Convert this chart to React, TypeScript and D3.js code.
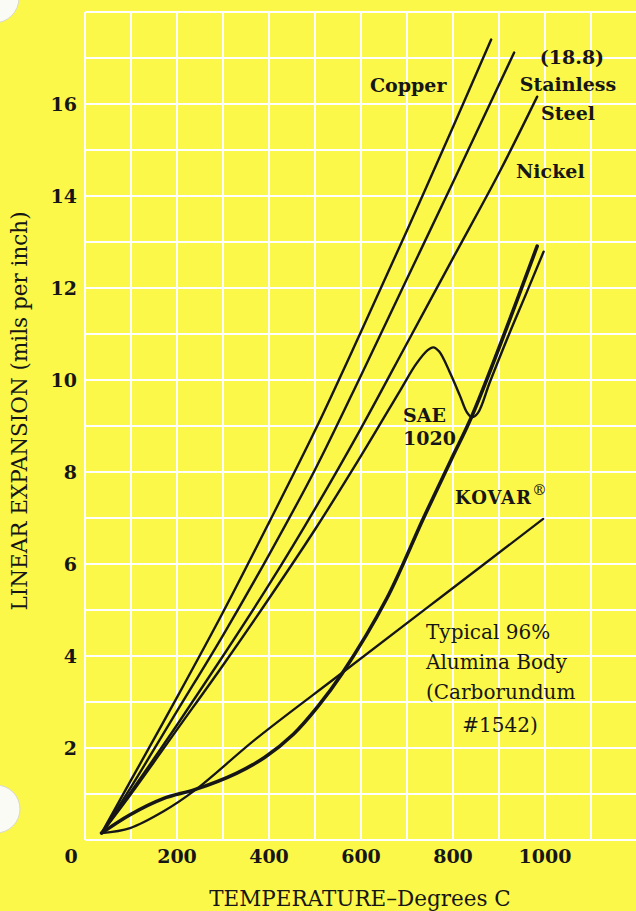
import React from "react";
import * as d3 from "d3";

// Temperature (°C) and linear expansion (mils per inch)
const copperT = [36, 100, 200, 300, 400, 500, 600, 700, 800, 883];
const copperV = [0.15, 1.3, 3.1, 4.95, 6.9, 8.9, 11.05, 13.25, 15.5, 17.4];

const stainlessT = [36, 100, 200, 300, 400, 500, 600, 700, 800, 933];
const stainlessV = [0.15, 1.15, 2.8, 4.45, 6.2, 8.05, 10.1, 12.2, 14.3, 17.12];

const nickelT = [36, 100, 200, 300, 400, 500, 600, 700, 800, 900, 983];
const nickelV = [0.15, 1.05, 2.5, 4.0, 5.55, 7.2, 8.95, 10.8, 12.65, 14.5, 16.16];

const saeT = [36, 100, 200, 300, 400, 500, 600, 685, 720, 745, 757, 770, 793, 815, 830, 841, 854, 880, 920, 960, 997];
const saeV = [0.15, 1.0, 2.4, 3.8, 5.25, 6.75, 8.35, 9.77, 10.35, 10.65, 10.71, 10.62, 10.17, 9.66, 9.3, 9.19, 9.28, 9.95, 10.95, 11.9, 12.79];

const kovarT = [36, 98, 170, 240, 329, 391, 453, 506, 559, 656, 735, 797, 843, 983];
const kovarV = [0.15, 0.55, 0.9, 1.1, 1.45, 1.8, 2.3, 2.9, 3.62, 5.25, 6.98, 8.29, 9.26, 12.91];

const aluminaT = [36, 98, 170, 240, 373, 557, 770, 996];
const aluminaV = [0.15, 0.26, 0.62, 1.09, 2.21, 3.62, 5.25, 6.98];

const xTicks = [200, 400, 600, 800, 1000];
const yTicks = [2, 4, 6, 8, 10, 12, 14, 16];
const xGrid = d3.range(0, 1201, 100);
const yGrid = d3.range(0, 19, 1);

const W = 636;
const H = 911;
const BG = "#FCF84A";
const INK = "#161616";
const FONT = "'DejaVu Serif', serif";

export default function App() {
  const x = d3.scaleLinear().domain([0, 1200]).range([85, 637]);
  const y = d3.scaleLinear().domain([0, 18]).range([840, 12]);

  const line = d3
    .line<[number, number]>()
    .x((d) => x(d[0]))
    .y((d) => y(d[1]))
    .curve(d3.curveCatmullRom.alpha(0.5));

  const zip = (t: number[], v: number[]) => t.map((d, i) => [d, v[i]] as [number, number]);

  const series = [
    { name: "copper", pts: zip(copperT, copperV), w: 2.4 },
    { name: "stainless", pts: zip(stainlessT, stainlessV), w: 2.4 },
    { name: "nickel", pts: zip(nickelT, nickelV), w: 2.4 },
    { name: "sae", pts: zip(saeT, saeV), w: 2.4 },
    { name: "alumina", pts: zip(aluminaT, aluminaV), w: 2.3 },
    { name: "kovar", pts: zip(kovarT, kovarV), w: 3.6 },
  ];

  return (
    <svg
      width={W}
      height={H}
      style={{ position: "absolute", left: 0, top: 0, display: "block" }}
      fontFamily={FONT}
    >
      <rect x={0} y={0} width={W} height={H} fill={BG} />
      {/* punch holes */}
      <circle cx={-6} cy={-2} r={25} fill="#fbfbf6" stroke="#d8d8c8" strokeWidth={1} />
      <circle cx={-4} cy={809} r={24} fill="#fbfbf6" stroke="#d8d8c8" strokeWidth={1} />

      {/* grid */}
      <g stroke="#ffffff" strokeWidth={2}>
        {xGrid.map((t) => (
          <line key={"vx" + t} x1={x(t)} x2={x(t)} y1={y(18)} y2={y(0)} />
        ))}
        {yGrid.map((v) => (
          <line key={"hy" + v} x1={x(0)} x2={x(1200)} y1={y(v)} y2={y(v)} />
        ))}
      </g>

      {/* curves */}
      <g fill="none" stroke={INK} strokeLinecap="round" strokeLinejoin="round">
        {series.map((s) => (
          <path key={s.name} d={line(s.pts) || ""} strokeWidth={s.w} />
        ))}
      </g>

      {/* y tick labels */}
      <g fill={INK} fontSize={19} fontWeight="bold" textAnchor="end">
        {yTicks.map((v) => (
          <text key={"yt" + v} x={77} y={y(v)} dy="0.36em">
            {v}
          </text>
        ))}
      </g>
      {/* x tick labels */}
      <g fill={INK} fontSize={19} fontWeight="bold" textAnchor="middle">
        <text x={71} y={863}>0</text>
        {xTicks.map((t) => (
          <text key={"xt" + t} x={x(t)} y={863}>
            {t}
          </text>
        ))}
      </g>

      {/* axis titles */}
      <text x={360} y={906} textAnchor="middle" fontSize={21.5} fill={INK}>
        TEMPERATURE–Degrees C
      </text>
      <text
        transform={`translate(27, 411) rotate(-90)`}
        textAnchor="middle"
        fontSize={21.5}
        fill={INK}
      >
        LINEAR EXPANSION (mils per inch)
      </text>

      {/* series labels */}
      <g fill={INK} fontSize={19} fontWeight="bold">
        <text x={370} y={92}>Copper</text>
        <text x={572} y={64} textAnchor="middle">(18.8)</text>
        <text x={568} y={91} textAnchor="middle">Stainless</text>
        <text x={568} y={120} textAnchor="middle">Steel</text>
        <text x={516} y={178}>Nickel</text>
        <text x={403} y={422}>SAE</text>
        <text x={403} y={445}>1020</text>
        <text x={455} y={504} fontSize={18} letterSpacing={1}>
          KOVAR
          <tspan fontSize={15} fontWeight="normal" dy={-9} letterSpacing={0}>®</tspan>
        </text>
      </g>
      <g fill={INK} fontSize={20}>
        <text x={426} y={639}>Typical 96%</text>
        <text x={426} y={669}>Alumina Body</text>
        <text x={426} y={699}>(Carborundum</text>
        <text x={500} y={732} textAnchor="middle">#1542)</text>
      </g>
    </svg>
  );
}
